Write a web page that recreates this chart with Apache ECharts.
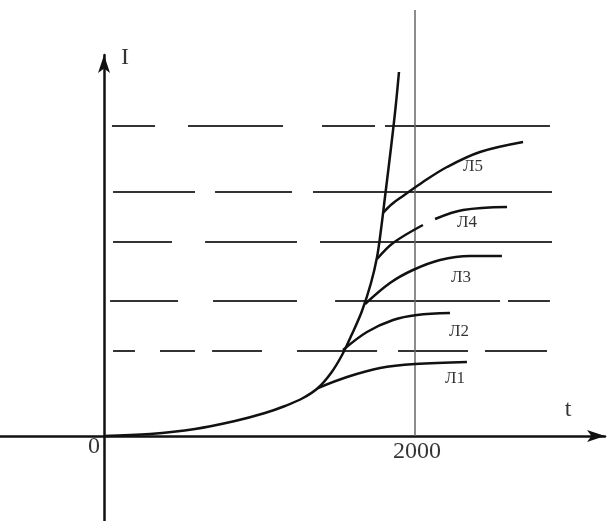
<!DOCTYPE html>
<html>
<head>
<meta charset="utf-8">
<style>
  html, body { margin: 0; padding: 0; background: #fff; }
  #chart { width: 608px; height: 521px; }
</style>
<script src="https://cdn.jsdelivr.net/npm/echarts@6/dist/echarts.min.js"></script>
</head>
<body>
<div id="chart"></div>
<script>
// t (years) and I values
const mainCurve = [
  [0, 0], [296, 0.2], [585, 0.7], [842, 1.5], [1035, 2.3], [1164, 3.0], [1280, 3.8],
  [1376, 4.8], [1460, 6.3], [1531, 8.1], [1595, 10.2], [1659, 12.5], [1717, 15.3],
  [1756, 17.9], [1781, 20.6], [1807, 23.9], [1833, 27.2], [1859, 30.6], [1878, 33.3], [1897, 36.4]
];
const l1 = [[1376, 4.8], [1563, 5.9], [1775, 6.8], [2000, 7.2], [2334, 7.4]];
const l2 = [[1537, 8.6], [1691, 10.4], [1859, 11.6], [2013, 12.1], [2225, 12.3]];
const l3 = [[1679, 13.2], [1839, 15.3], [1987, 16.6], [2161, 17.6], [2354, 18.0], [2559, 18.0]];
const l4a = [[1756, 17.7], [1859, 19.3], [2051, 21.1]];
const l4b = [[2129, 21.7], [2309, 22.6], [2592, 22.9]];
const l5 = [[1794, 22.3], [1852, 23.2], [1923, 24.0], [2051, 25.4], [2206, 26.9], [2418, 28.4], [2695, 29.4]];

// dashed level lines: level I and its [from, to] pieces
const levels = [31.0, 24.4, 19.4, 13.5, 8.5];
const levelPieces = [
  [[51, 328], [540, 1151], [1402, 1743], [1807, 2868]],
  [[58, 585], [714, 1209], [1344, 2881]],
  [[58, 437], [650, 1241], [1389, 2881]],
  [[39, 476], [701, 1241], [1486, 2547], [2598, 2868]],
  [[58, 199], [360, 585], [695, 1016], [1241, 1756], [1891, 2341], [2450, 2849]]
];

const markT = 2000;
const markTop = 42.6;

const curveNames = ["Л5", "Л4", "Л3", "Л2", "Л1"];
const curveLabelPos = [[2373, 26.9], [2334, 21.3], [2296, 15.8], [2283, 10.4], [2257, 5.7]];

const axisTexts = [
  { name: "I", value: [135, 37.8] },
  { name: "t", value: [2984, 2.6] },
  { name: "0", value: [-64, -1.1] },
  { name: "2000", value: [2013, -1.6] }
];

const ink = "#000";

function curve(data) {
  return {
    type: "line",
    data: data,
    smooth: 0.35,
    symbol: "none",
    clip: false,
    lineStyle: { color: "#111", width: 2.5 },
    silent: true
  };
}

const dashData = [];
levels.forEach((lv, i) => {
  levelPieces[i].forEach((p) => {
    dashData.push({ coords: [[p[0], lv], [p[1], lv]] });
  });
});

const chart = echarts.init(document.getElementById("chart"));
chart.setOption({
  animation: false,
  grid: { left: 0, right: 3, top: 55, bottom: 0 },
  xAxis: {
    type: "value",
    min: -669,
    max: 3222,
    splitLine: { show: false },
    axisTick: { show: false },
    axisLabel: { show: false },
    axisLine: {
      onZero: true,
      symbol: ["none", "arrow"],
      symbolSize: [9, 18],
      lineStyle: { color: "#111", width: 2.5 }
    }
  },
  yAxis: {
    type: "value",
    min: -8.5,
    max: 38.1,
    splitLine: { show: false },
    axisTick: { show: false },
    axisLabel: { show: false },
    axisLine: {
      onZero: true,
      symbol: ["none", "arrow"],
      symbolSize: [9, 18],
      lineStyle: { color: "#111", width: 2.5 }
    }
  },
  series: [
    {
      type: "lines",
      coordinateSystem: "cartesian2d",
      data: dashData,
      silent: true,
      lineStyle: { color: "#333", width: 2, opacity: 1 }
    },
    {
      type: "line",
      data: [[markT, 0], [markT, markTop]],
      symbol: "none",
      clip: false,
      silent: true,
      lineStyle: { color: "#666", width: 1.5 }
    },
    curve(mainCurve),
    curve(l1),
    curve(l2),
    curve(l3),
    curve(l4a),
    curve(l4b),
    curve(l5),
    {
      type: "scatter",
      symbolSize: 0,
      silent: true,
      data: curveNames.map((n, i) => ({ name: n, value: curveLabelPos[i] })),
      label: {
        show: true,
        position: "inside",
        formatter: "{b}",
        color: ink,
        fontFamily: "Liberation Serif",
        fontSize: 17
      }
    },
    {
      type: "scatter",
      symbolSize: 0,
      silent: true,
      clip: false,
      data: axisTexts,
      label: {
        show: true,
        position: "inside",
        formatter: "{b}",
        color: ink,
        fontFamily: "Liberation Serif",
        fontSize: 24
      }
    }
  ]
});
</script>
</body>
</html>
